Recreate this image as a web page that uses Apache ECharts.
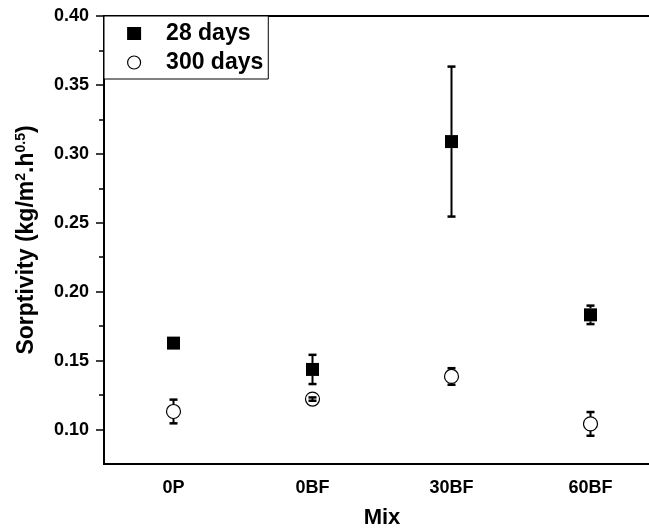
<!DOCTYPE html>
<html>
<head>
<meta charset="utf-8">
<script src="https://cdn.jsdelivr.net/npm/echarts@6/dist/echarts.min.js"></script>
<style>html,body{margin:0;padding:0;background:#fff}#c{width:649px;height:531px}</style>
</head>
<body>
<div id="c"></div>
<script>
const categories = ['0P', '0BF', '30BF', '60BF'];
const days28 = [0.1627, 0.1436, 0.3089, 0.1832];
const days28Err = [0.003, 0.0106, 0.0544, 0.0067];
const days300 = [0.1131, 0.1221, 0.1385, 0.1041];
const days300Err = [0.0086, 0.0012, 0.006, 0.0086];
const yMajorTicks = [0.10, 0.15, 0.20, 0.25, 0.30, 0.35, 0.40];
const yMinorTicks = [0.125, 0.175, 0.225, 0.275, 0.325, 0.375];
const yMin = 0.075, yMax = 0.40;

const FONT = 'Liberation Sans, Arial, sans-serif';
const SQ = 13, CIR = 14;

function errRenderer(halfSym) {
  return function (params, api) {
    const i = api.value(0), v = api.value(1), e = api.value(2);
    const c = api.coord([i, v]);
    const t = api.coord([i, v + e]);
    const b = api.coord([i, v - e]);
    const capW = 4;
    const st = { stroke: '#000', lineWidth: 2 };
    const ch = [];
    if (c[1] - t[1] > halfSym) {
      ch.push({ type: 'line', shape: { x1: c[0], y1: c[1] - halfSym, x2: t[0], y2: t[1] }, style: st });
      ch.push({ type: 'line', shape: { x1: b[0], y1: c[1] + halfSym, x2: b[0], y2: b[1] }, style: st });
    } else {
      ch.push({ type: 'line', shape: { x1: t[0], y1: t[1], x2: b[0], y2: b[1] }, style: st });
    }
    ch.push({ type: 'line', shape: { x1: t[0] - capW, y1: t[1], x2: t[0] + capW, y2: t[1] }, style: { stroke: '#000', lineWidth: 2.5 } });
    ch.push({ type: 'line', shape: { x1: b[0] - capW, y1: b[1], x2: b[0] + capW, y2: b[1] }, style: { stroke: '#000', lineWidth: 2.5 } });
    return { type: 'group', children: ch };
  };
}

const chart = echarts.init(document.getElementById('c'), null, { renderer: 'canvas' });
chart.setOption({
  animation: false,
  backgroundColor: '#fff',
  textStyle: { fontFamily: FONT },
  grid: { left: 104, width: 556, top: 16, bottom: 67, outerBoundsMode: 'none', containLabel: false, show: true, borderColor: '#000', borderWidth: 2, backgroundColor: 'transparent' },
  legend: {
    left: 104, top: 16, orient: 'vertical',
    backgroundColor: '#fff', borderColor: '#000', borderWidth: 1,
    padding: [6, 5, 5, 23], itemGap: 6, itemWidth: 14, itemHeight: 13,
    textStyle: { fontFamily: FONT, fontWeight: 'bold', fontSize: 23, lineHeight: 23, color: '#000', padding: [0, 0, 0, 20] },
    data: [
      { name: '28 days', icon: 'rect', itemStyle: { color: '#000', borderWidth: 0, opacity: 1 } },
      { name: '300 days', icon: 'circle', itemStyle: { color: '#fff', borderColor: '#000', borderWidth: 1.2, opacity: 1 } }
    ]
  },
  xAxis: {
    type: 'category', data: categories, boundaryGap: true,
    axisLine: { lineStyle: { color: '#000', width: 2 } },
    axisTick: { show: false },
    axisLabel: { color: '#000', fontWeight: 'bold', fontSize: 18, fontFamily: FONT, margin: 15 },
    name: 'Mix', nameLocation: 'middle', nameGap: 43,
    nameTextStyle: { color: '#000', fontWeight: 'bold', fontSize: 22, fontFamily: FONT }
  },
  yAxis: [{
    type: 'value', min: yMin, max: yMax, interval: 0.025,
    splitLine: { show: false },
    axisLine: { show: true, lineStyle: { color: '#000', width: 2 } },
    axisTick: { show: true, length: 8, customValues: yMajorTicks, lineStyle: { color: '#000', width: 1.5 } },
    axisLabel: { color: '#000', fontWeight: 'bold', fontSize: 18, fontFamily: FONT, margin: 15, customValues: yMajorTicks, formatter: v => v.toFixed(2) },
    name: 'Sorptivity (kg/m{sup|2}.h{sup|0.5})', nameLocation: 'middle', nameGap: 65,
    nameTextStyle: {
      color: '#000', fontWeight: 'bold', fontSize: 23, fontFamily: FONT,
      rich: { sup: { fontSize: 14, fontWeight: 'bold', fontFamily: FONT, color: '#000', padding: [0, 0, 11, 0] } }
    }
  }, {
    type: 'value', min: yMin, max: yMax, interval: 0.025, position: 'left',
    splitLine: { show: false },
    axisLine: { show: false },
    axisTick: { show: true, length: 5, customValues: yMinorTicks, lineStyle: { color: '#000', width: 1.5 } },
    axisLabel: { show: false }
  }],
  series: [
    {
      name: '28 days', type: 'scatter', symbol: 'rect', symbolSize: SQ, z: 3,
      itemStyle: { color: '#000', opacity: 1 },
      data: days28.map((v, i) => [i, v])
    },
    {
      name: '300 days', type: 'scatter', symbol: 'circle', symbolSize: CIR, z: 3,
      itemStyle: { color: '#fff', borderColor: '#000', borderWidth: 1.2, opacity: 1 },
      data: days300.map((v, i) => [i, v])
    },
    {
      type: 'custom', z: 2, renderItem: errRenderer(SQ / 2),
      data: days28.map((v, i) => [i, v, days28Err[i]])
    },
    {
      type: 'custom', z: 4, renderItem: errRenderer(CIR / 2),
      data: days300.map((v, i) => [i, v, days300Err[i]])
    }
  ]
});
</script>
</body>
</html>
